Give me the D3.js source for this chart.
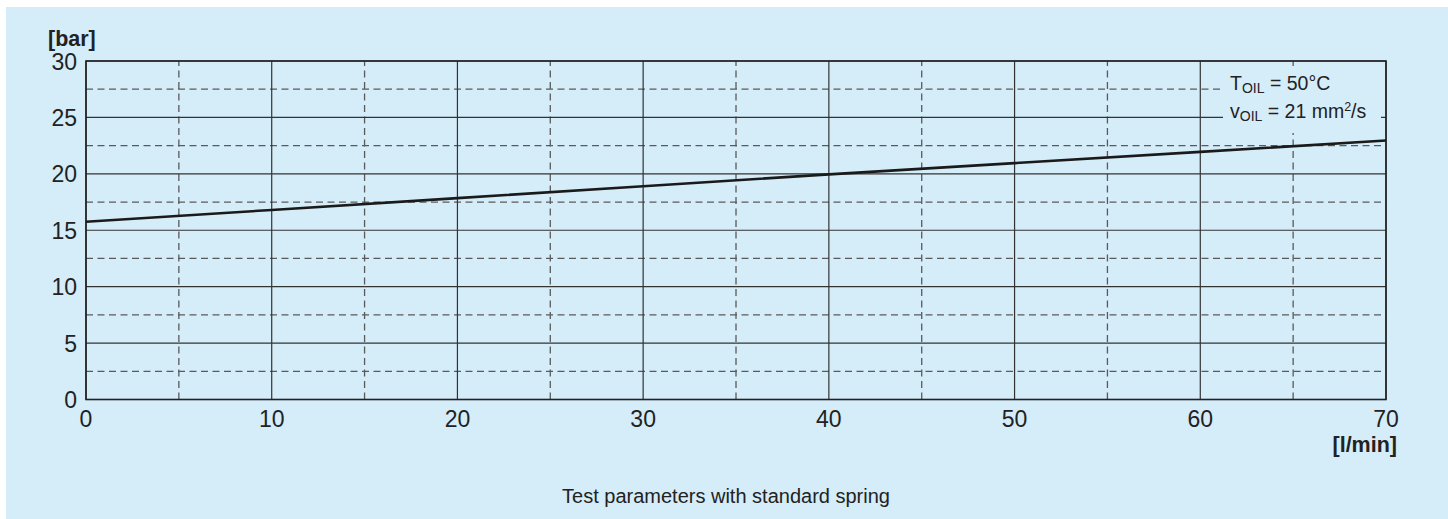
<!DOCTYPE html>
<html>
<head>
<meta charset="utf-8">
<script src="https://cdn.jsdelivr.net/npm/d3@7"></script>
<style>
  body { margin: 0; background: #fff; }
  svg { display: block; font-family: "Liberation Sans", Arial, sans-serif; }
</style>
</head>
<body>
<svg width="1448" height="519"></svg>
<script>
// flow [l/min] vs pressure [bar]
const flow = [0, 10, 20, 30, 40, 50, 60, 70]
const pressure = [15.75, 16.8, 17.85, 18.9, 19.95, 20.95, 21.95, 22.95]
const xMajor = [0, 10, 20, 30, 40, 50, 60, 70]
const xMinor = [5, 15, 25, 35, 45, 55, 65]
const yMajor = [0, 5, 10, 15, 20, 25, 30]
const yMinor = [2.5, 7.5, 12.5, 17.5, 22.5, 27.5]

const svg = d3.select("svg")
const width = 1448, height = 519
let margin = {top: 61, right: 62, bottom: 119.5, left: 86}

svg.append("rect")
  .attr("x", 6).attr("y", 7)
  .attr("width", width - 6).attr("height", height - 7)
  .attr("fill", "#d5ecf9")

const x = d3.scaleLinear().domain([0, 70]).range([margin.left, width - margin.right])
const y = d3.scaleLinear().domain([0, 30]).range([height - margin.bottom, margin.top])

const g = svg.append("g")

// minor dashed grid
g.selectAll(".vminor").data(xMinor).enter().append("line")
  .attr("x1", d => x(d)).attr("x2", d => x(d))
  .attr("y1", y(0)).attr("y2", y(30))
  .attr("stroke", "#5a5a5a").attr("stroke-width", 1.3)
  .attr("stroke-dasharray", "7,4.5")
g.selectAll(".hminor").data(yMinor).enter().append("line")
  .attr("x1", x(0)).attr("x2", x(70))
  .attr("y1", d => y(d)).attr("y2", d => y(d))
  .attr("stroke", "#5a5a5a").attr("stroke-width", 1.3)
  .attr("stroke-dasharray", "7,4.5")

// major solid grid
g.selectAll(".vmajor").data(xMajor).enter().append("line")
  .attr("x1", d => x(d)).attr("x2", d => x(d))
  .attr("y1", y(0)).attr("y2", y(30))
  .attr("stroke", "#333").attr("stroke-width", 1.2)
g.selectAll(".hmajor").data(yMajor).enter().append("line")
  .attr("x1", x(0)).attr("x2", x(70))
  .attr("y1", d => y(d)).attr("y2", d => y(d))
  .attr("stroke", "#333").attr("stroke-width", 1.2)

// frame
g.append("rect")
  .attr("x", x(0)).attr("y", y(30))
  .attr("width", x(70) - x(0)).attr("height", y(0) - y(30))
  .attr("fill", "none").attr("stroke", "#222").attr("stroke-width", 1.6)

// annotation box hides grid
g.append("rect")
  .attr("x", 1223).attr("y", 69)
  .attr("width", 158).attr("height", 64)
  .attr("fill", "#d5ecf9")

const ann = g.append("g").attr("font-size", 19.5).attr("fill", "#222")
const t1 = ann.append("text").attr("x", 1230).attr("y", 90)
t1.append("tspan").text("T")
t1.append("tspan").attr("font-size", 14).attr("dy", 3).text("OIL")
t1.append("tspan").attr("dy", -3).text(" = 50°C")
const t2 = ann.append("text").attr("x", 1230).attr("y", 118)
t2.append("tspan").text("v")
t2.append("tspan").attr("font-size", 14).attr("dy", 3).text("OIL")
t2.append("tspan").attr("dy", -3).text(" = 21 mm")
t2.append("tspan").attr("font-size", 12.5).attr("dy", -7).text("2")
t2.append("tspan").attr("dy", 7).text("/s")

// curve
const line = d3.line().x((d, i) => x(flow[i])).y(d => y(d))
g.append("path")
  .datum(pressure)
  .attr("d", line)
  .attr("fill", "none")
  .attr("stroke", "#1a1a1a")
  .attr("stroke-width", 2.6)

// tick labels
g.selectAll(".ylab").data(yMajor).enter().append("text")
  .attr("x", 77).attr("y", d => y(d) + 8.5)
  .attr("text-anchor", "end")
  .attr("font-size", 23).attr("fill", "#222")
  .text(d => d)
g.selectAll(".xlab").data(xMajor).enter().append("text")
  .attr("x", d => x(d)).attr("y", 427)
  .attr("text-anchor", "middle")
  .attr("font-size", 23).attr("fill", "#222")
  .text(d => d)

// axis units
g.append("text").attr("x", 48).attr("y", 46)
  .attr("font-size", 21.5).attr("font-weight", "bold").attr("fill", "#222")
  .text("[bar]")
g.append("text").attr("x", 1397).attr("y", 452)
  .attr("text-anchor", "end")
  .attr("font-size", 21.5).attr("font-weight", "bold").attr("fill", "#222")
  .text("[l/min]")

// caption
g.append("text").attr("x", 726).attr("y", 503)
  .attr("text-anchor", "middle")
  .attr("font-size", 20).attr("fill", "#222")
  .text("Test parameters with standard spring")
</script>
</body>
</html>
